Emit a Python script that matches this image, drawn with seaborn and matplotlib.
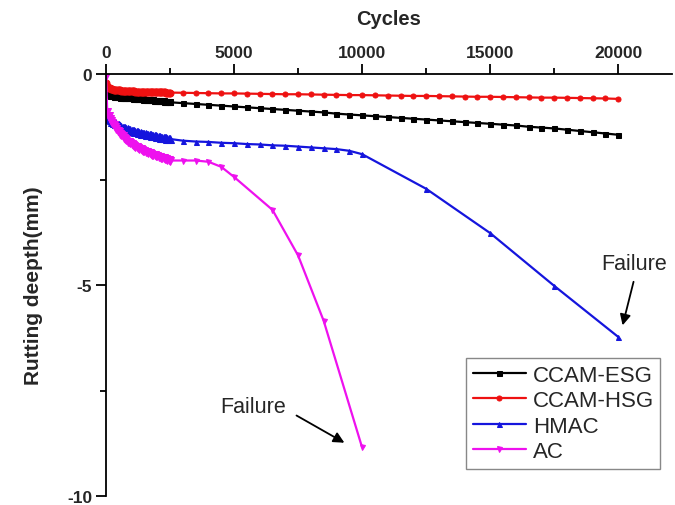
import matplotlib
matplotlib.use("Agg")
import matplotlib.pyplot as plt
import seaborn as sns
from matplotlib.ticker import MultipleLocator

# Sampling schedule: readings every 50 cycles up to 2500, then every 500 cycles
cycles_early = list(range(0, 2501, 50))
cycles_late = list(range(3000, 20001, 500))

esg_early = [-0.40, -0.46, -0.49, -0.50, -0.51, -0.52, -0.53, -0.535, -0.54, -0.545,
             -0.55, -0.555, -0.56, -0.56, -0.565, -0.565, -0.57, -0.57, -0.575, -0.575,
             -0.58, -0.58, -0.585, -0.585, -0.59, -0.59, -0.595, -0.595, -0.60, -0.60,
             -0.605, -0.605, -0.61, -0.61, -0.615, -0.62, -0.62, -0.625, -0.63, -0.63,
             -0.635, -0.64, -0.64, -0.645, -0.65, -0.65, -0.655, -0.66, -0.66, -0.665,
             -0.67]
esg_late = [-0.69, -0.71, -0.73, -0.75, -0.77, -0.79, -0.81, -0.83, -0.85, -0.87,
            -0.89, -0.91, -0.94, -0.96, -0.98, -1.00, -1.02, -1.04, -1.06, -1.08,
            -1.10, -1.12, -1.14, -1.16, -1.18, -1.20, -1.22, -1.25, -1.27, -1.29,
            -1.32, -1.35, -1.38, -1.41, -1.44]

hsg_early = [-0.22, -0.29, -0.32, -0.34, -0.35, -0.36, -0.37, -0.375, -0.38, -0.385,
             -0.39, -0.39, -0.395, -0.395, -0.40, -0.40, -0.40, -0.405, -0.405, -0.41,
             -0.41, -0.41, -0.41, -0.415, -0.415, -0.415, -0.415, -0.42, -0.42, -0.42,
             -0.42, -0.42, -0.42, -0.425, -0.425, -0.425, -0.425, -0.43, -0.43, -0.43,
             -0.43, -0.43, -0.43, -0.435, -0.435, -0.435, -0.435, -0.44, -0.44, -0.44,
             -0.44]
hsg_late = [-0.445, -0.45, -0.455, -0.46, -0.46, -0.465, -0.47, -0.475, -0.48, -0.48,
            -0.485, -0.49, -0.495, -0.50, -0.50, -0.505, -0.51, -0.515, -0.52, -0.52,
            -0.525, -0.53, -0.535, -0.54, -0.54, -0.545, -0.55, -0.555, -0.56, -0.56,
            -0.565, -0.57, -0.575, -0.58, -0.59]

hmac_early = [-0.90, -0.99, -1.04, -1.07, -1.10, -1.13, -1.15, -1.17, -1.19, -1.21,
              -1.22, -1.24, -1.25, -1.27, -1.28, -1.29, -1.30, -1.31, -1.32, -1.33,
              -1.34, -1.35, -1.36, -1.37, -1.38, -1.385, -1.39, -1.40, -1.41, -1.415,
              -1.42, -1.43, -1.44, -1.445, -1.45, -1.455, -1.46, -1.465, -1.47, -1.48,
              -1.49, -1.495, -1.50, -1.505, -1.51, -1.515, -1.52, -1.525, -1.53, -1.535,
              -1.54]
hmac_late_cycles = [3000, 3500, 4000, 4500, 5000, 5500, 6000, 6500, 7000, 7500,
                    8000, 8500, 9000, 9500, 10000, 12500, 15000, 17500, 20000]
hmac_late = [-1.58, -1.60, -1.61, -1.63, -1.64, -1.66, -1.67, -1.69, -1.70, -1.72,
             -1.74, -1.76, -1.78, -1.82, -1.90, -2.72, -3.77, -5.02, -6.23]

ac_early = [-0.05, -0.90, -1.00, -1.06, -1.12, -1.17, -1.22, -1.26, -1.30, -1.34,
            -1.38, -1.42, -1.45, -1.48, -1.51, -1.54, -1.57, -1.60, -1.62, -1.64,
            -1.66, -1.68, -1.70, -1.72, -1.74, -1.755, -1.77, -1.785, -1.80, -1.815,
            -1.83, -1.845, -1.86, -1.87, -1.88, -1.895, -1.91, -1.92, -1.93, -1.94,
            -1.95, -1.96, -1.97, -1.98, -1.99, -2.00, -2.01, -2.02, -2.03, -2.04,
            -2.05]
ac_late_cycles = [3000, 3500, 4000, 4500, 5000, 6500, 7500, 8500, 10000]
ac_late = [-2.05, -2.05, -2.08, -2.20, -2.44, -3.22, -4.30, -5.85, -8.85]

series = [
    ("CCAM-ESG", cycles_early, esg_early, cycles_late, esg_late, "black", "s", 3.8),
    ("CCAM-HSG", cycles_early, hsg_early, cycles_late, hsg_late, "#ee1111", "o", 5.0),
    ("HMAC", cycles_early, hmac_early, hmac_late_cycles, hmac_late, "#1515dd", "^", 5.4),
    ("AC", cycles_early, ac_early, ac_late_cycles, ac_late, "#ee11ee", "v", 5.4),
]

sns.set_style("ticks")
plt.rcParams["font.family"] = ["Liberation Sans", "DejaVu Sans"]
plt.rcParams["axes.unicode_minus"] = False

fig = plt.figure(figsize=(6.75, 5.06), dpi=100)
ax = fig.add_axes([106 / 675, 1 - 497 / 506, (672 - 106) / 675, (497 - 75) / 506])

for name, xe, ye, xl, yl, color, mk, dense_ms in series:
    # densely sampled start: overlapping markers form a solid band
    sns.lineplot(x=xe, y=ye, ax=ax, color=color, marker=mk, markersize=dense_ms,
                 markeredgecolor=color, linewidth=1.6, sort=False, estimator=None)
    # sparser readings afterwards
    sns.lineplot(x=[xe[-1]] + xl, y=[ye[-1]] + yl, ax=ax, color=color, marker=mk,
                 markersize=3.6, markeredgecolor=color, linewidth=1.6,
                 sort=False, estimator=None, label=name)

ax.set_xlim(0, 22100)
ax.set_ylim(-10, 0)

ax.xaxis.tick_top()
ax.xaxis.set_label_position("top")
ax.xaxis.set_major_locator(MultipleLocator(5000))
ax.xaxis.set_minor_locator(MultipleLocator(2500))
ax.yaxis.set_major_locator(MultipleLocator(5))
ax.yaxis.set_minor_locator(MultipleLocator(2.5))

for side in ("right", "bottom"):
    ax.spines[side].set_visible(False)
for side in ("top", "left"):
    ax.spines[side].set_linewidth(1.3)
    ax.spines[side].set_color("black")

ax.tick_params(which="major", length=7, width=1.3, color="black")
ax.tick_params(which="minor", length=4.5, width=1.3, color="black")
ax.tick_params(axis="x", which="both", top=True, bottom=False, labeltop=True,
               labelbottom=False, pad=3)
ax.tick_params(axis="y", pad=3)
for lab in ax.get_xticklabels() + ax.get_yticklabels():
    lab.set_fontsize(12.5)
    lab.set_fontweight("bold")

ax.set_xlabel("Cycles", fontsize=14.5, fontweight="bold", labelpad=15)
ax.set_ylabel("Rutting deepth(mm)", fontsize=15, fontweight="bold", labelpad=17)

# Failure markers
ax.text(20625, -4.50, "Failure", fontsize=15.5, ha="center", va="center")
ax.annotate("", xy=(20145, -6.02), xytext=(20625, -4.86),
            arrowprops=dict(arrowstyle="-|>", color="black", lw=1.3, mutation_scale=16))
ax.text(5762, -7.87, "Failure", fontsize=15.5, ha="center", va="center")
ax.annotate("", xy=(9402, -8.77), xytext=(7344, -8.06),
            arrowprops=dict(arrowstyle="-|>", color="black", lw=1.3, mutation_scale=16))

leg = ax.legend(loc="upper left", bbox_to_anchor=(466 / 675, 1 - 359 / 506),
                bbox_transform=fig.transFigure, fontsize=16, frameon=True,
                fancybox=False, framealpha=1, edgecolor="#888888",
                handlelength=2.4, handletextpad=0.3, labelspacing=0.2,
                borderpad=0.3, borderaxespad=0)
leg.get_frame().set_linewidth(1.0)

fig.savefig("out.png", dpi=100)
